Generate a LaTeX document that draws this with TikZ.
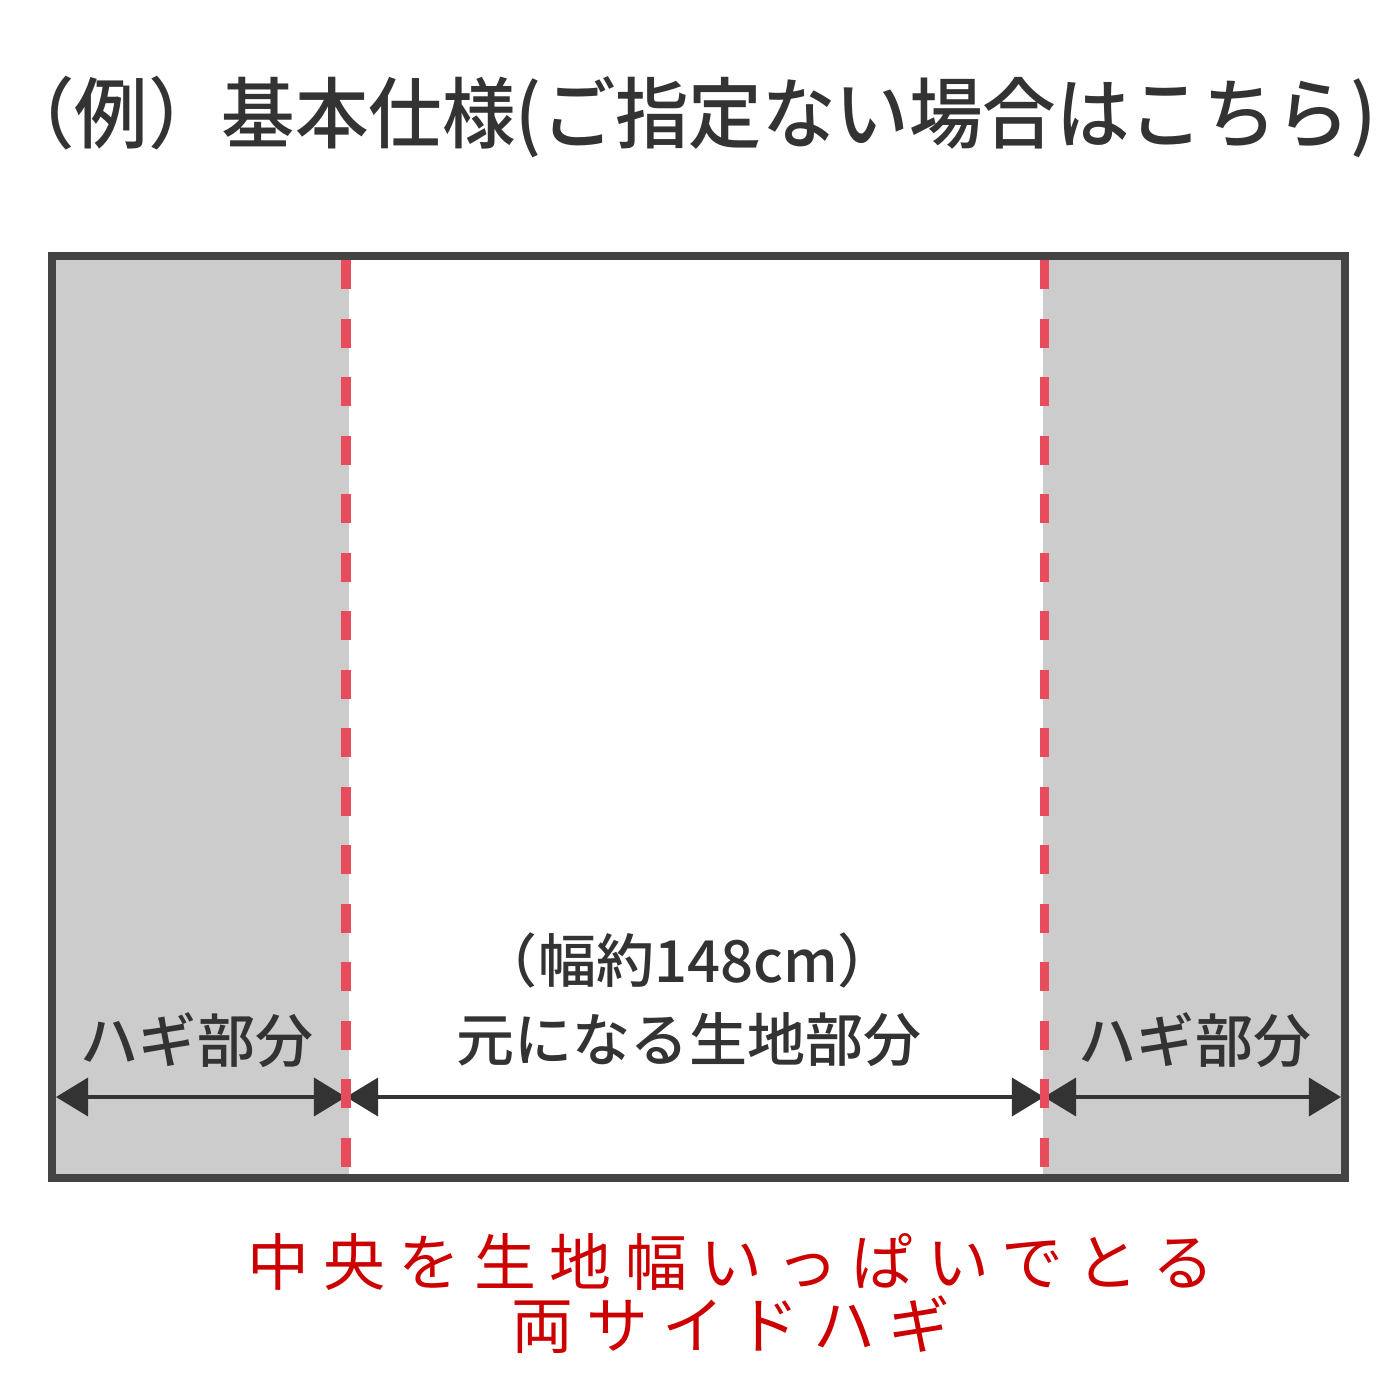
\documentclass[tikz,border=0pt]{standalone}
\usepackage{fontspec}
\usepackage{xcolor}
\usetikzlibrary{arrows.meta}
\newfontfamily\jpfont{Noto Sans CJK JP Medium}
\newfontfamily\jpspaced{Noto Sans CJK JP}[LetterSpace=22]
\definecolor{hagigray}{HTML}{CCCCCC}
\definecolor{framegray}{HTML}{444444}
\definecolor{textgray}{HTML}{333333}
\definecolor{seamred}{HTML}{E84B5B}
\definecolor{notered}{HTML}{CC0000}
\tikzset{
  seam/.style={seamred, line width=0.09cm, dash pattern=on 0.29cm off 0.295cm},
  outerframe/.style={framegray, line width=0.08cm},
  dimarrow/.style={textgray, line width=0.035cm,
    {Triangle[length=0.32cm,width=0.38cm]}-{Triangle[length=0.32cm,width=0.38cm]}},
  parttext/.style={textgray, font=\jpfont\fontsize{16.5}{20}\selectfont, inner sep=0pt},
  notetext/.style={notered, font=\jpspaced\fontsize{17.6}{21}\selectfont, inner sep=0pt}
}

\begin{document}
\begin{tikzpicture}[x=0.01cm, y=-0.01cm]
\useasboundingbox (0,0) rectangle (1396,1396);

% title
\node[textgray, font=\jpfont\fontsize{22}{26}\selectfont, inner sep=0pt, xscale=0.95] (title) at (689,117)
  {（例）基本仕様(ご指定ない場合はこちら)};

% side panels
\fill[hagigray] (52,256) rectangle (349,1178);
\fill[hagigray] (1043,256) rectangle (1345,1178);

% width arrows
\coordinate (leftEdge) at (56,1097);
\coordinate (leftSeam) at (346,1097);
\coordinate (rightSeam) at (1044,1097);
\coordinate (rightEdge) at (1341,1097);
\draw[dimarrow] (leftEdge) -- (leftSeam);
\draw[dimarrow] (leftSeam) -- (rightSeam);
\draw[dimarrow] (rightSeam) -- (rightEdge);

% seams
\coordinate (leftTop) at (346,260);
\coordinate (leftBottom) at (346,1174);
\coordinate (rightTop) at (1044,260);
\coordinate (rightBottom) at (1044,1174);
\draw[seam] (leftTop) -- (leftBottom);
\draw[seam] (rightTop) -- (rightBottom);

% frame
\draw[outerframe] (52,256) rectangle (1345,1178);

% labels
\node[parttext] (leftHagi) at (197,1040) {ハギ部分};
\node[parttext] (rightHagi) at (1195,1040) {ハギ部分};
\node[parttext] (width) at (688,960) {（幅約148cm）};
\node[parttext] (centerCloth) at (689,1040) {元になる生地部分};

% note
\node[notetext] (noteA) at (731,1262) {中央を生地幅いっぱいでとる};
\node[notetext] (noteB) at (731,1325) {両サイドハギ};
\end{tikzpicture}
\end{document}
